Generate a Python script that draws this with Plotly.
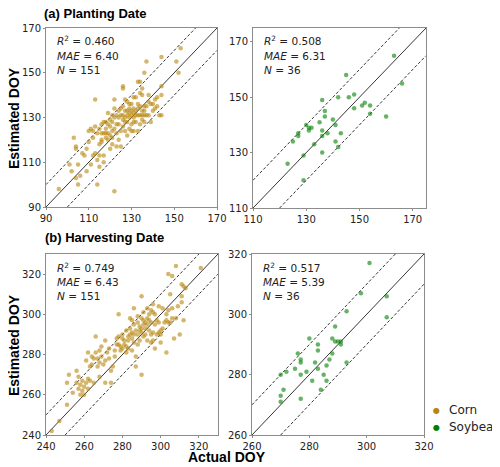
import plotly.graph_objects as go

W, H = 500, 467
OFF = 8  # the page puts the figure 8px in from the top-left corner
FW, FH = W - OFF, H - OFF

# (a) planting date, corn: actual vs estimated DOY
corn_plant_actual = [
    96, 101, 102, 103, 104, 104, 104, 105, 105, 106,
    107, 108, 109, 109, 110, 110, 111, 111, 112, 112,
    113, 113, 113, 114, 114, 114, 115, 115, 115, 116,
    116, 116, 116, 117, 117, 117, 117, 118, 118, 118,
    118, 119, 119, 119, 120, 120, 120, 121, 121, 121,
    121, 122, 122, 122, 122, 123, 123, 123, 123, 124,
    124, 124, 125, 125, 125, 125, 126, 126, 126, 126,
    126, 127, 127, 127, 127, 128, 128, 128, 128, 128,
    129, 129, 129, 129, 130, 130, 130, 130, 130, 131,
    131, 131, 131, 131, 132, 132, 132, 132, 133, 133,
    133, 133, 134, 134, 134, 134, 134, 135, 135, 135,
    135, 135, 136, 136, 136, 136, 137, 137, 137, 138,
    138, 139, 139, 140, 141, 141, 142, 142, 143, 144,
    144, 144, 144, 151, 152, 153,
    112, 115, 119, 120, 122, 124, 127, 129, 131, 133, 136, 138, 140, 121, 126,
]
corn_plant_est = [
    98, 109, 106, 121, 117, 116, 103, 100, 109, 104,
    114, 113, 116, 106, 124, 119, 125, 109, 113, 121,
    138, 126, 114, 123, 111, 100, 125, 108, 118, 127,
    123, 120, 119, 128, 123, 113, 110, 128, 125, 123,
    121, 132, 127, 123, 126, 122, 116, 131, 128, 124,
    118, 138, 134, 130, 97, 131, 127, 123, 117, 130,
    127, 120, 134, 131, 124, 117, 144, 143, 135, 131,
    126, 138, 133, 130, 124, 137, 133, 131, 128, 122,
    134, 132, 130, 125, 136, 133, 131, 127, 124, 139,
    134, 132, 130, 124, 139, 133, 131, 128, 146, 136,
    131, 124, 146, 141, 135, 131, 127, 143, 140, 133,
    131, 129, 150, 135, 133, 128, 155, 135, 131, 137,
    131, 136, 128, 136, 138, 134, 139, 135, 131, 157,
    144, 140, 131, 155, 150, 161,
    124, 113, 120, 129, 125, 133, 128, 136, 128, 134, 131, 140, 133, 121, 129,
]

# (a) planting date, soybean
soy_plant_actual = [
    163, 145, 166, 136, 142, 146, 148, 151, 152, 154,
    148, 137, 137, 154, 160, 140, 135, 141, 130, 131,
    132, 131, 136, 138, 143, 127, 127, 136, 125, 141,
    133, 142, 136, 129, 123, 129,
]
soy_plant_est = [
    165, 158, 155, 149, 150, 150, 151, 147, 148, 147,
    146, 145, 143, 144, 143, 142, 141, 140, 140, 139,
    139, 138, 138, 137, 137, 137, 136, 136, 134, 134,
    133, 132, 130, 129, 126, 120,
]

# (b) harvesting date, corn
corn_harv_actual = [
    243, 247, 251, 251, 252, 254, 256, 256, 257, 257,
    258, 258, 259, 260, 260, 261, 261, 262, 262, 263,
    263, 264, 264, 265, 265, 266, 266, 267, 267, 268,
    268, 268, 269, 269, 270, 271, 271, 271, 272, 273,
    273, 274, 274, 275, 276, 277, 277, 278, 278, 278,
    279, 279, 280, 280, 281, 281, 282, 282, 283, 283,
    283, 284, 284, 284, 285, 285, 285, 285, 286, 286,
    286, 287, 287, 287, 288, 288, 288, 289, 289, 289,
    290, 290, 290, 290, 290, 291, 291, 291, 292, 292,
    292, 293, 293, 293, 294, 294, 294, 295, 295, 295,
    295, 296, 296, 296, 296, 297, 297, 298, 298, 299,
    299, 300, 300, 300, 301, 302, 303, 303, 303, 304,
    304, 305, 305, 306, 306, 306, 307, 308, 308, 309,
    310, 311, 311, 311, 312, 312, 313, 321,
    259, 262, 276, 280, 282, 286, 288, 291, 293, 297, 299, 301, 304,
]
corn_harv_est = [
    242, 247, 255, 266, 270, 261, 272, 266, 263, 269,
    260, 265, 262, 260, 264, 277, 266, 281, 268, 274,
    267, 279, 275, 266, 278, 289, 281, 278, 274, 269,
    282, 276, 284, 279, 275, 287, 277, 266, 281, 283,
    278, 266, 272, 274, 282, 288, 285, 285, 289, 300,
    284, 282, 283, 288, 287, 285, 284, 281, 289, 287,
    283, 298, 293, 290, 297, 291, 288, 282, 303, 290,
    286, 279, 292, 274, 296, 290, 285, 292, 294, 287,
    309, 298, 293, 291, 270, 295, 289, 297, 296, 293,
    290, 298, 295, 287, 297, 292, 300, 302, 296, 290,
    286, 305, 301, 291, 287, 300, 283, 297, 290, 304,
    291, 292, 286, 290, 303, 296, 297, 281, 300, 320,
    302, 310, 296, 319, 298, 303, 288, 324, 298, 304,
    290, 315, 309, 306, 314, 297, 313, 323,
    267, 263, 279, 290, 292, 295, 299, 301, 303, 295, 296, 293, 296,
]

# (b) harvesting date, soybean
soy_harv_actual = [
    301, 298, 307, 293, 307, 289, 280, 288, 289, 290,
    291, 291, 283, 283, 276, 288, 277, 277, 287, 282,
    293, 286, 275, 283, 279, 272, 270, 277, 285, 281,
    286, 271, 284, 270, 270, 277,
]
soy_harv_est = [
    317, 307, 306, 301, 299, 296, 292, 292, 291, 291,
    291, 290, 290, 288, 287, 287, 285, 284, 285, 284,
    284, 283, 282, 282, 281, 281, 280, 280, 280, 278,
    278, 275, 275, 273, 271, 272,
]

panel_ranges = [[90, 170], [110, 175], [240, 330], [260, 320]]
panel_ticks = [
    [90, 110, 130, 150, 170],
    [110, 130, 150, 170],
    [240, 260, 280, 300, 320],
    [260, 280, 300, 320],
]
stats = [
    ("0.460", "6.40", "151"),
    ("0.508", "6.31", "36"),
    ("0.749", "6.43", "151"),
    ("0.517", "5.39", "36"),
]

CORN = "#B8860B"
SOY = "#008000"
FRAME = "#8c8c8c"
TXT = "#222222"


def fx(p):
    return (p - OFF) / FW


def fy(p):
    return 1 - (p - OFF) / FH


# page-pixel boxes of the four panels (left, right, top, bottom)
boxes = [(46, 217, 28, 207), (253, 426, 28, 208), (46, 218, 254, 435), (252, 424, 254, 435)]

series = [
    (corn_plant_actual, corn_plant_est, CORN),
    (soy_plant_actual, soy_plant_est, SOY),
    (corn_harv_actual, corn_harv_est, CORN),
    (soy_harv_actual, soy_harv_est, SOY),
]

fig = go.Figure()
ann = []

for i, ((xs, ys, col), rng, tv, st, box) in enumerate(zip(series, panel_ranges, panel_ticks, stats, boxes)):
    n = "" if i == 0 else str(i + 1)
    xa, ya = "x" + n, "y" + n
    lo, hi = rng
    line = dict(color="black", width=0.8)
    dash = dict(color="black", width=0.8, dash="3px,2px")
    fig.add_trace(go.Scatter(x=[lo, hi], y=[lo, hi], mode="lines", line=line,
                             xaxis=xa, yaxis=ya, showlegend=False, hoverinfo="skip"))
    fig.add_trace(go.Scatter(x=[lo, hi - 10], y=[lo + 10, hi], mode="lines", line=dash,
                             xaxis=xa, yaxis=ya, showlegend=False, hoverinfo="skip"))
    fig.add_trace(go.Scatter(x=[lo + 10, hi], y=[lo, hi - 10], mode="lines", line=dash,
                             xaxis=xa, yaxis=ya, showlegend=False, hoverinfo="skip"))
    fig.add_trace(go.Scatter(x=xs, y=ys, mode="markers", xaxis=xa, yaxis=ya,
                             marker=dict(color=col, size=4.5, opacity=0.6, line=dict(width=0)),
                             showlegend=False))

    l, r, t, b = box
    common = dict(range=rng, tickvals=tv, showgrid=False, zeroline=False, showline=True,
                  mirror=True, linecolor=FRAME, linewidth=1, ticks="outside", ticklen=2,
                  tickcolor=FRAME, automargin=False,
                  tickfont=dict(family="DejaVu Sans", size=10, color=TXT))
    fig.update_layout(**{
        "xaxis" + n: dict(domain=[fx(l), fx(r)], anchor=ya, **common),
        "yaxis" + n: dict(domain=[fy(b), fy(t)], anchor=xa, **common),
    })

    r2, mae, nn = st
    for k, s in enumerate([f"<i>R</i><sup>2</sup> = {r2}", f"<i>MAE</i> = {mae}", f"<i>N</i> = {nn}"]):
        ann.append(dict(x=fx(l + 9), y=fy(t + 13 + 14.5 * k), text=s,
                        xanchor="left", yanchor="middle",
                        font=dict(family="DejaVu Sans", size=10.5, color=TXT)))

bold = dict(family="Liberation Sans, Arial", size=13, color="black")
ann += [
    dict(x=fx(42), y=fy(14), text="<b>(a) Planting Date</b>", xanchor="left", yanchor="middle", font=bold),
    dict(x=fx(43), y=fy(238), text="<b>(b) Harvesting Date</b>", xanchor="left", yanchor="middle", font=bold),
    dict(x=fx(14), y=fy(118), text="<b>Estimated DOY</b>", textangle=-90, xanchor="center",
         yanchor="middle", font=dict(bold, size=14)),
    dict(x=fx(14), y=fy(345), text="<b>Estimated DOY</b>", textangle=-90, xanchor="center",
         yanchor="middle", font=dict(bold, size=14)),
    dict(x=fx(227), y=fy(457), text="<b>Actual DOY</b>", xanchor="center", yanchor="middle",
         font=dict(bold, size=14)),
]
# legend
for k, (name, col) in enumerate([("Corn", CORN), ("Soybean", SOY)]):
    yy = fy(410 + 17 * k)
    ann.append(dict(x=fx(436), y=yy, text="●", xanchor="center", yanchor="middle",
                    font=dict(family="DejaVu Sans", size=8, color=col)))
    ann.append(dict(x=fx(447), y=yy, text=name, xanchor="left", yanchor="middle",
                    font=dict(family="DejaVu Sans", size=12, color=TXT)))

for a in ann:
    a.update(xref="paper", yref="paper", showarrow=False)

fig.update_layout(width=FW, height=FH, margin=dict(l=0, r=0, t=0, b=0, pad=0, autoexpand=False),
                  plot_bgcolor="white", paper_bgcolor="white", annotations=ann)

fig.write_html("out.html")
